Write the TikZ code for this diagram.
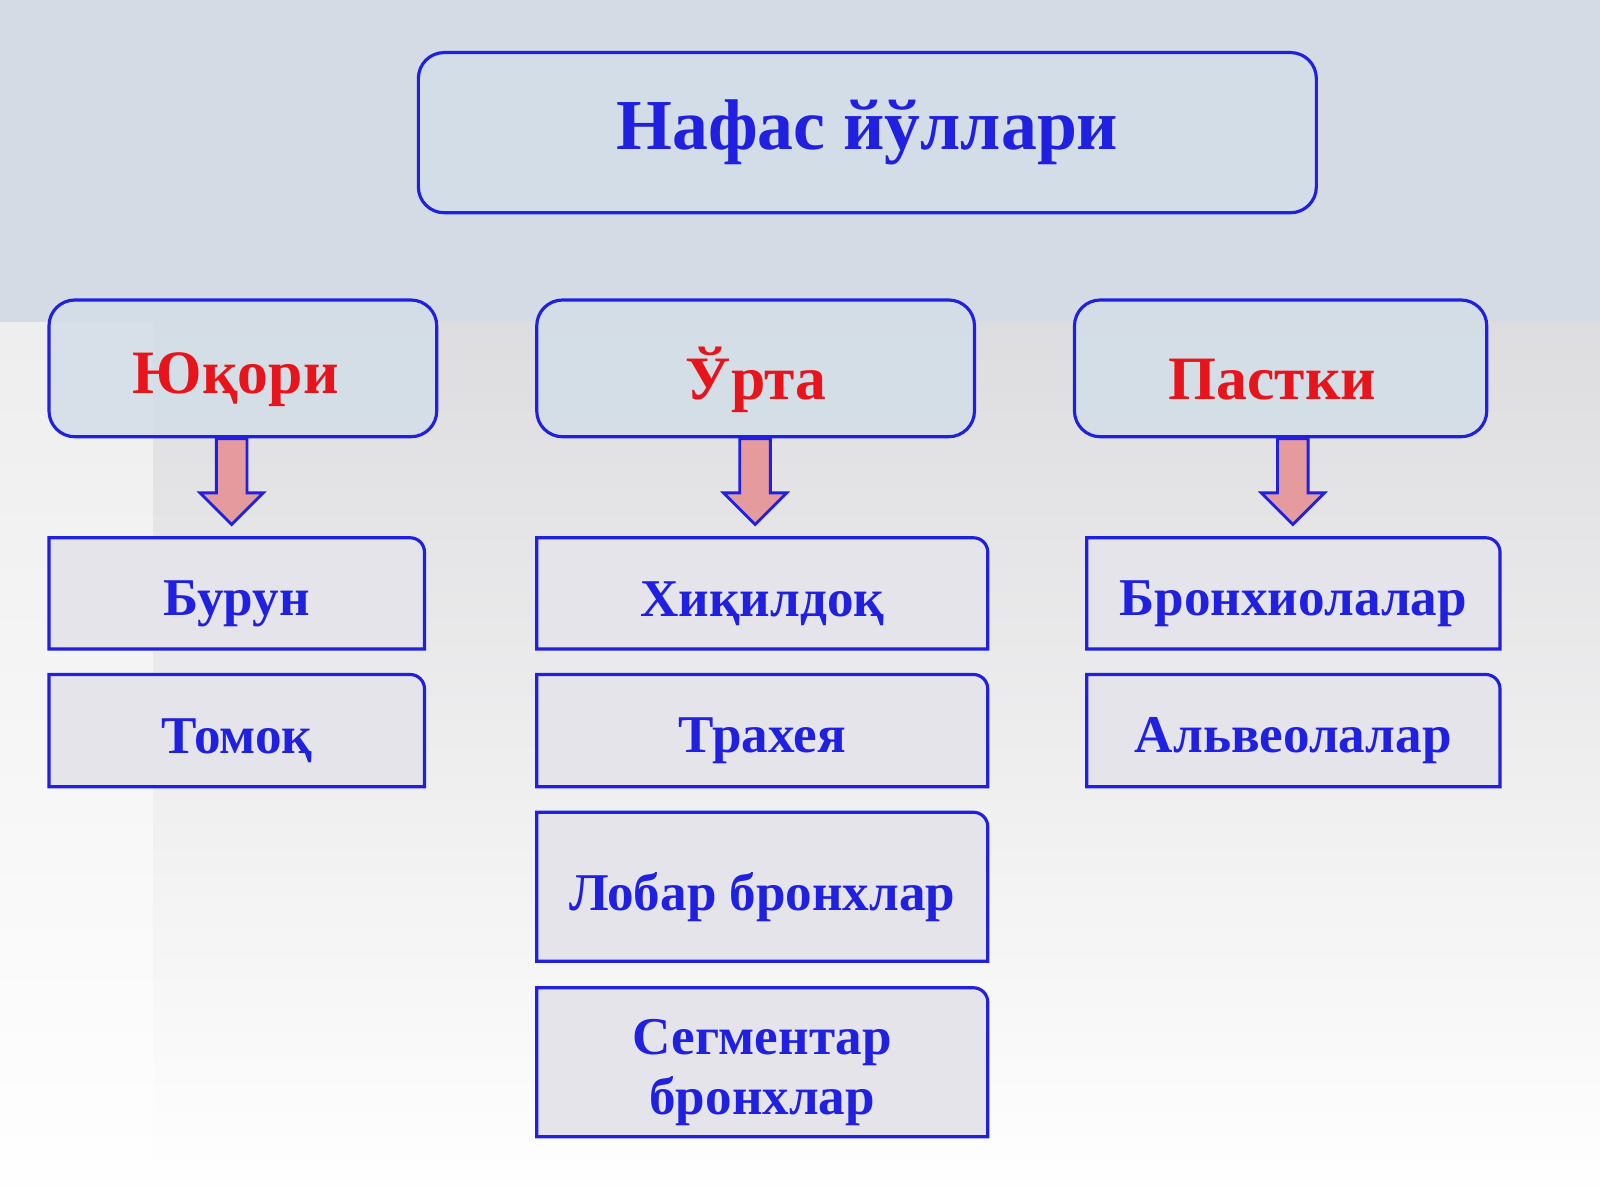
\documentclass[tikz,border=0pt]{standalone}
\usepackage{fontspec}
\setmainfont{Liberation Serif}
\begin{document}
\definecolor{bl}{HTML}{2020E0}
\definecolor{rd}{HTML}{E8141C}
\definecolor{pk}{HTML}{E59A9E}
\definecolor{topbox}{HTML}{D3DEE8}
\definecolor{lowbox}{HTML}{E4E4EA}
\begin{tikzpicture}[x=0.025cm,y=-0.025cm,
  top/.style={draw=bl,line width=2.2pt,rounded corners=18pt,fill=topbox,fill opacity=0.85,text opacity=1},
  low/.style={draw=bl,line width=2.2pt,fill=lowbox},
  lt/.style={font=\bfseries\fontsize{37}{40}\selectfont,text=bl,align=center},
  ct/.style={font=\bfseries\fontsize{43}{46}\selectfont,text=rd}]
\useasboundingbox (0,0) rectangle (1568,1176);
\shade[top color=white!80!blue!15!gray!40, bottom color=white] (0,0) rectangle (1568,1176);
\fill[color={rgb,255:red,212;green,219;blue,229}] (0,0) rectangle (1568,316);
\fill[white,opacity=0.5] (0,316) rectangle (150,1176);
% title
\node[top,minimum width=880*0.025cm,minimum height=157*0.025cm,font=\bfseries\fontsize{50}{56}\selectfont,text=bl] (t) at (850,130) {Нафас йўллари};
% categories
\node[top,minimum width=380*0.025cm,minimum height=134*0.025cm] (a) at (238,361) {};
\node[ct] (al) at (231,372) {Юқори};
\node[top,minimum width=429*0.025cm,minimum height=134*0.025cm] (b) at (740.5,361) {};
\node[ct] (bl) at (741,372) {Ўрта};
\node[top,minimum width=404*0.025cm,minimum height=134*0.025cm] (c) at (1255,361) {};
\node[ct] (cl) at (1247,372) {Пастки};
% arrows
\foreach \x in {227,740,1267}{
 \filldraw[draw=bl,fill=pk,line width=2pt,line join=miter] (\x-15,430)--(\x+15,430)--(\x+15,483)--(\x+31,483)--(\x,514)--(\x-31,483)--(\x-15,483)--cycle;}
% lower boxes
\newcommand{\lbox}[6]{\draw[low] (#1,#4) -- (#2,#4) [rounded corners=10pt]-- (#2,#3) [sharp corners]-- (#1,#3) -- cycle;
 \node[lt] (#5) at ({(#1+#2)/2},{(#3+#4)/2+10}) {#6};}
\lbox{48}{416}{527}{636}{n1}{Бурун}
\lbox{48}{416}{661}{771}{n2}{Томоқ}
\lbox{526}{968}{527}{636}{m1}{Хиқилдоқ}
\lbox{526}{968}{661}{771}{m2}{Трахея}
\lbox{526}{968}{796}{942}{m3}{Лобар бронхлар}
\lbox{526}{968}{968}{1114}{m4}{Сегментар\\[2pt]бронхлар}
\lbox{1065}{1470}{527}{636}{r1}{Бронхиолалар}
\lbox{1065}{1470}{661}{771}{r2}{Альвеолалар}
\end{tikzpicture}
\end{document}
